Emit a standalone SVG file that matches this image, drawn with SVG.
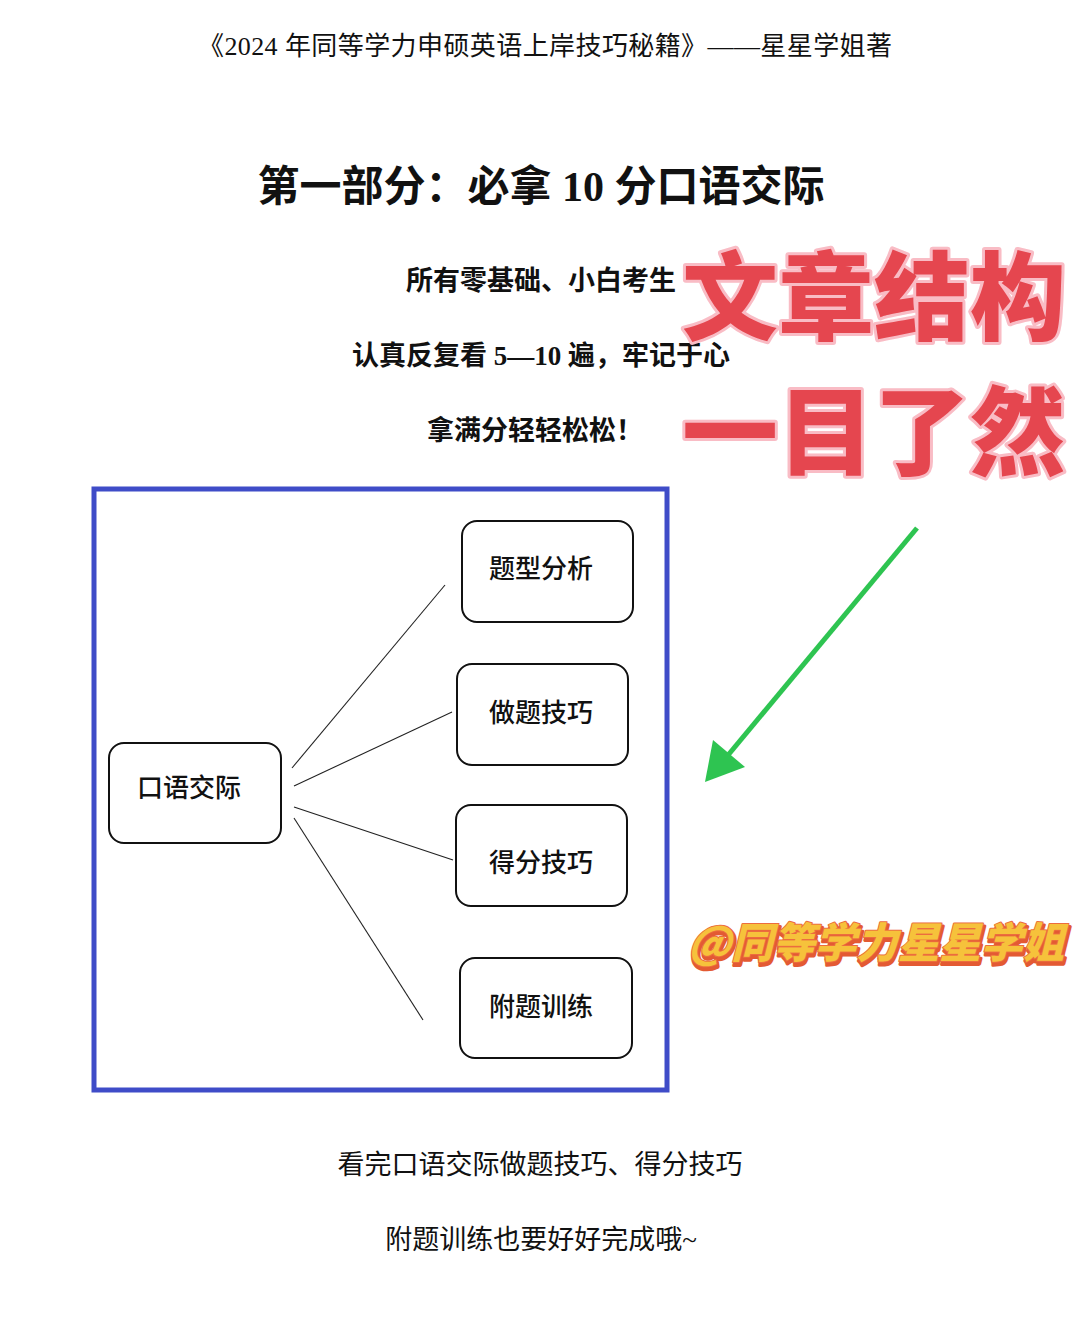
<svg xmlns="http://www.w3.org/2000/svg" width="1080" height="1323" viewBox="0 0 1080 1323">
<defs>
<style>
.serif{font-family:"Liberation Serif","Noto Sans CJK SC",serif;fill:#111}
.b{font-weight:bold}
.node rect{fill:#fff;stroke:#111;stroke-width:2}
.node text{font-family:"Noto Sans CJK SC",sans-serif;font-size:26px;font-weight:500;fill:#111;text-anchor:middle}
.conn line{stroke:#222;stroke-width:1.1}
.big{font-family:"Noto Sans CJK SC",sans-serif;font-weight:900;font-size:96px;fill:#e5464f;stroke:#f9bcc5;stroke-width:6;paint-order:stroke;stroke-linejoin:round}
.wm{font-family:"Noto Sans CJK SC",sans-serif;font-weight:900;font-size:42px;stroke-linejoin:round}
</style>
</defs>
<rect width="1080" height="1323" fill="#fff"/>

<text class="serif" x="545" y="55" font-size="26" text-anchor="middle" textLength="694" lengthAdjust="spacing">《2024 年同等学力申硕英语上岸技巧秘籍》——星星学姐著</text>
<text class="serif b" x="541" y="201" font-size="42" text-anchor="middle">第一部分：必拿 10 分口语交际</text>
<text class="serif b" x="541" y="290" font-size="27" text-anchor="middle">所有零基础、小白考生</text>
<text class="serif b" x="541" y="365" font-size="27" text-anchor="middle">认真反复看 5—10 遍，牢记于心</text>
<text class="serif b" x="535" y="440" font-size="27" text-anchor="middle">拿满分轻轻松松！</text>

<text class="serif" x="540" y="1174" font-size="27" text-anchor="middle">看完口语交际做题技巧、得分技巧</text>
<text class="serif" x="541" y="1249" font-size="27" text-anchor="middle">附题训练也要好好完成哦~</text>

<rect x="94" y="489" width="573" height="601" fill="none" stroke="#3f4cc8" stroke-width="5"/>

<g id="connectors" class="conn">
<line x1="292" y1="768" x2="445" y2="585"/>
<line x1="294" y1="786" x2="452" y2="712"/>
<line x1="294" y1="807" x2="453" y2="860"/>
<line x1="294" y1="818" x2="423" y2="1020"/>
</g>

<g id="node-kouyu" class="node"><rect x="109" y="743" width="172" height="100" rx="15"/><text x="189" y="797">口语交际</text></g>
<g id="node-tixing" class="node"><rect x="462" y="521" width="171" height="101" rx="15"/><text x="541" y="578">题型分析</text></g>
<g id="node-zuoti" class="node"><rect x="457" y="664" width="171" height="101" rx="15"/><text x="541" y="722">做题技巧</text></g>
<g id="node-defen" class="node"><rect x="456" y="805" width="171" height="101" rx="15"/><text x="541" y="872">得分技巧</text></g>
<g id="node-futi" class="node"><rect x="460" y="958" width="172" height="100" rx="15"/><text x="541" y="1016">附题训练</text></g>

<text class="big" x="682" y="332" textLength="384" lengthAdjust="spacingAndGlyphs">文章结构</text>
<text class="big" x="682" y="467" textLength="384" lengthAdjust="spacingAndGlyphs">一目了然</text>

<g id="arrow">
<line x1="917" y1="528" x2="724" y2="760" stroke="#2ec451" stroke-width="5"/>
<polygon points="705,782 713,740 745,767" fill="#2ec451"/>
</g>

<g transform="translate(688,958) skewX(-14)">
<text class="wm" x="2" y="3" fill="#e35a33" stroke="#e35a33" stroke-width="4" textLength="376" lengthAdjust="spacingAndGlyphs">@同等学力星星学姐</text>
<text class="wm" x="0" y="0" fill="#f6c23b" stroke="#ec6d3e" stroke-width="2" paint-order="stroke" textLength="376" lengthAdjust="spacingAndGlyphs">@同等学力星星学姐</text>
</g>
</svg>
